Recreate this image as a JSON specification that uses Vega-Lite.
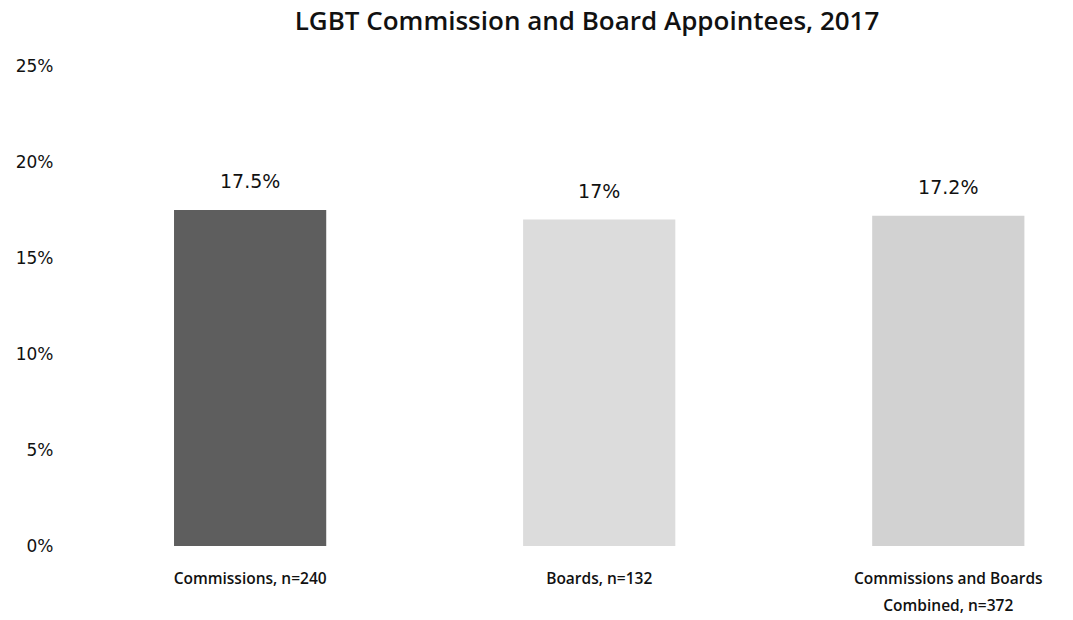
{
  "$schema": "https://vega.github.io/schema/vega-lite/v6.json",
  "autosize": "none",
  "width": 990,
  "height": 480,
  "padding": {"left": 70, "top": 66, "right": 13, "bottom": 74},
  "background": "white",
  "title": {
    "text": "LGBT Commission and Board Appointees, 2017",
    "font": "Open Sans",
    "fontSize": 26,
    "fontWeight": 600,
    "color": "#111",
    "anchor": "middle",
    "dx": 22,
    "offset": 22
  },
  "data": {
    "values": [
      {"group": "Commissions, n=240", "share": 0.175},
      {"group": "Boards, n=132", "share": 0.17},
      {"group": "Commissions and Boards|Combined, n=372", "share": 0.172}
    ]
  },
  "config": {"view": {"stroke": null}},
  "encoding": {
    "x": {
      "field": "group",
      "type": "nominal",
      "sort": null,
      "scale": {"paddingInner": 0.564, "paddingOuter": 0.2, "align": 0.745},
      "axis": {
        "title": null,
        "labelAngle": 0,
        "domain": false,
        "ticks": false,
        "labelPadding": 25,
        "labelFont": "Open Sans",
        "labelFontSize": 15.5,
        "labelFontWeight": 600,
        "labelColor": "#111",
        "labelLineHeight": 27,
        "labelLimit": 400,
        "labelExpr": "split(datum.label, '|')"
      }
    },
    "y": {
      "field": "share",
      "type": "quantitative",
      "scale": {"domain": [0, 0.25], "nice": false},
      "axis": {
        "title": null,
        "format": ".0%",
        "values": [0, 0.05, 0.1, 0.15, 0.2, 0.25],
        "grid": false,
        "domain": false,
        "ticks": false,
        "labelPadding": 17,
        "labelFont": "DejaVu Sans",
        "labelFontSize": 17,
        "labelColor": "#111"
      }
    }
  },
  "layer": [
    {
      "mark": {"type": "bar"},
      "encoding": {
        "color": {
          "field": "group",
          "type": "nominal",
          "sort": null,
          "scale": {"range": ["#5e5e5e", "#dcdcdc", "#d2d2d2"]},
          "legend": null
        }
      }
    },
    {
      "mark": {"type": "text", "baseline": "alphabetic", "dy": -22, "font": "DejaVu Sans", "fontSize": 19, "color": "#111"},
      "encoding": {
        "text": {"field": "share", "type": "quantitative", "format": ".1~%"}
      }
    }
  ]
}
